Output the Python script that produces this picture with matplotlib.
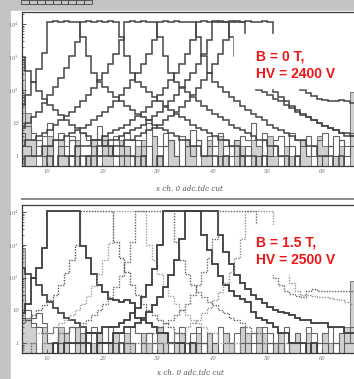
import numpy as np
import matplotlib
matplotlib.use('Agg')
import matplotlib.pyplot as plt
from matplotlib.patches import Rectangle

plt.rcParams['mathtext.fontset'] = 'dejavuserif'

# channels 5..65, one bin per channel
channels = np.arange(5, 66)
edges = np.arange(5, 67)
x_ticks = [10, 20, 30, 40, 50, 60]
y_ticks = [1, 10, 100, 1000, 10000]
y_tick_labels = ['1', '10', '$10^2$', '$10^3$', '$10^4$']
x_label = 'x ch. 0 adc.tdc cut'
label_top = ['B = 0 T,', 'HV = 2400 V']
label_bot = ['B = 1.5 T,', 'HV = 2500 V']

# ---- upper plot: B = 0 T ----
top_c0 = [1000, 380, 180, 95, 55, 35, 24, 17, 12, 9,
          7, 5, 4, 3, 3, 2, 2, 1, 1, 1,
          1, 0, 1, 0, 0, 1, 0, 0, 0, 0,
          0, 0, 0, 0, 0, 0, 0, 0, 0, 0,
          0, 0, 0, 0, 0, 0, 0, 0, 0, 0,
          0, 0, 0, 0, 0, 0, 0, 0, 0, 0, 0]
top_c1 = [35, 70, 170, 420, 1300, 11500, 12000, 11800, 12100, 11900,
          11600, 4000, 1100, 320, 180, 125, 90, 63, 45, 32,
          24, 19, 15, 12, 9, 7, 6, 5, 4, 3,
          3, 2, 2, 1, 1, 1, 0, 1, 0, 0,
          1, 0, 0, 0, 0, 0, 0, 0, 0, 0,
          0, 0, 0, 0, 0, 0, 0, 0, 0, 0, 0]
top_c2 = [7, 10, 15, 22, 40, 70, 120, 230, 480, 1100,
          2800, 11800, 12000, 11900, 12100, 11800, 12000, 11700, 4000, 1100,
          330, 180, 125, 90, 63, 45, 32, 24, 19, 15,
          12, 9, 7, 6, 5, 4, 3, 3, 2, 2,
          1, 1, 1, 0, 1, 0, 0, 0, 0, 0,
          0, 0, 0, 0, 0, 0, 0, 0, 0, 0, 0]
top_c3 = [2, 3, 3, 4, 5, 6, 9, 12, 16, 21,
          30, 45, 70, 112, 200, 320, 630, 1250, 3200, 11900,
          12100, 11800, 12000, 11900, 11700, 4000, 1100, 320, 180, 125,
          90, 63, 45, 32, 24, 19, 15, 12, 9, 7,
          6, 5, 4, 3, 3, 2, 2, 1, 1, 0,
          1, 0, 0, 0, 0, 0, 0, 0, 0, 0, 0]
top_c4 = [0, 1, 1, 1, 2, 2, 3, 3, 4, 5,
          6, 7, 9, 12, 16, 21, 30, 45, 70, 112,
          200, 320, 630, 1250, 3200, 11800, 12000, 11900, 12100, 11800,
          11900, 11700, 4000, 1100, 320, 180, 125, 90, 63, 45,
          32, 24, 19, 15, 12, 9, 7, 6, 5, 4,
          3, 3, 2, 2, 1, 1, 1, 0, 1, 0, 0]
top_c5 = [0, 0, 0, 0, 0, 1, 0, 1, 1, 1,
          2, 2, 2, 3, 3, 4, 5, 6, 7, 9,
          12, 16, 21, 30, 45, 70, 112, 200, 320, 630,
          1250, 3200, 11900, 12000, 11800, 12100, 11900, 11700, 4000, 1100,
          320, 180, 125, 100, 85, 70, 55, 45, 35, 28,
          22, 18, 15, 12, 10, 8, 7, 6, 5, 4, 4]
top_c6 = [0, 0, 0, 0, 0, 0, 0, 0, 0, 1,
          0, 1, 1, 1, 2, 2, 3, 3, 4, 5,
          6, 7, 9, 12, 16, 21, 30, 45, 70, 112,
          200, 320, 630, 1250, 3200, 11800, 12000, 11900, 12000, 11800,
          11700, 4000, 1100, 320, 180, 125, 90, 63, 45, 32,
          24, 19, 15, 12, 10, 8, 7, 6, 5, 5, 4]
top_c7 = [0, 0, 0, 0, 0, 0, 0, 0, 0, 0,
          0, 0, 1, 0, 1, 1, 1, 2, 2, 3,
          3, 4, 5, 6, 7, 9, 12, 16, 21, 30,
          45, 70, 112, 200, 320, 630, 1250, 3200, 11900, 12000,
          11800, 12100, 11900, 11800, 12000, 11700, 4000, 1100, 320, 180,
          125, 100, 80, 65, 55, 50, 48, 45, 50, 45, 40]
top_fill = [900, 20, 3, 0, 2, 4, 0, 3, 1, 0,
            3, 0, 1, 3, 0, 4, 2, 0, 3, 2,
            0, 2, 3, 0, 4, 1, 0, 3, 1, 0,
            3, 2, 0, 1, 3, 0, 4, 1, 0, 3,
            2, 0, 3, 2, 0, 4, 1, 0, 2, 1,
            0, 3, 1, 0, 4, 2, 0, 1, 2, 0, 90]
top_n1 = [60, 8, 5, 2, 4, 10, 3, 5, 2, 4,
          1, 5, 3, 2, 8, 3, 1, 4, 2, 5,
          3, 1, 2, 10, 4, 2, 5, 3, 1, 4,
          2, 6, 3, 1, 4, 2, 5, 3, 2, 1,
          4, 3, 10, 2, 5, 1, 3, 4, 2, 5,
          3, 2, 4, 1, 3, 5, 2, 4, 3, 2, 5]
top_n2 = [5, 2, 1, 3, 1, 2, 0, 2, 1, 3,
          2, 0, 1, 2, 1, 3, 2, 1, 0, 2,
          1, 3, 1, 2, 0, 1, 2, 3, 1, 0,
          2, 1, 3, 1, 2, 0, 1, 2, 1, 3,
          1, 2, 0, 1, 3, 1, 2, 1, 0, 2,
          1, 3, 1, 2, 0, 1, 2, 1, 3, 1, 2]

# ---- lower plot: B = 1.5 T ----
bot_c0 = [200, 130, 100, 60, 30, 18, 12, 8, 6, 5,
          4, 3, 2, 2, 1, 1, 1, 0, 1, 0,
          0, 0, 0, 0, 0, 0, 0, 0, 0, 0,
          0, 0, 0, 0, 0, 0, 0, 0, 0, 0,
          0, 0, 0, 0, 0, 0, 0, 0, 0, 0,
          0, 0, 0, 0, 0, 0, 0, 0, 0, 0, 0]
bot_c1 = [8, 15, 100, 200, 800, 10500, 10800, 10900, 10700, 10800,
          10600, 900, 400, 130, 60, 35, 22, 20, 18, 20,
          17, 6, 5, 4, 3, 2, 2, 1, 1, 1,
          0, 1, 0, 0, 0, 0, 0, 0, 0, 0,
          0, 0, 0, 0, 0, 0, 0, 0, 0, 0,
          0, 0, 0, 0, 0, 0, 0, 0, 0, 0, 0]
bot_c2 = [4, 5, 7, 10, 14, 20, 30, 60, 140, 350,
          1000, 10600, 10900, 10800, 10700, 10900, 10800, 1200, 400, 150,
          60, 30, 16, 10, 7, 5, 4, 3, 2, 2,
          1, 1, 0, 1, 0, 0, 0, 0, 0, 0,
          0, 0, 0, 0, 0, 0, 0, 0, 0, 0,
          0, 0, 0, 0, 0, 0, 0, 0, 0, 0, 0]
bot_c3 = [1, 1, 1, 2, 2, 2, 3, 4, 5, 7,
          10, 16, 28, 55, 130, 350, 1100, 10800, 10900, 10700,
          10800, 10900, 10600, 1000, 350, 130, 55, 28, 16, 10,
          7, 5, 4, 3, 2, 2, 1, 1, 0, 1,
          0, 0, 0, 0, 0, 0, 0, 0, 0, 0,
          0, 0, 0, 0, 0, 0, 0, 0, 0, 0, 0]
bot_c4 = [0, 0, 1, 0, 1, 1, 1, 2, 2, 3,
          3, 4, 5, 7, 10, 15, 25, 50, 110, 300,
          1200, 10700, 10900, 10800, 10800, 10900, 10700, 10600, 1200, 350,
          130, 60, 35, 25, 18, 14, 10, 8, 6, 5,
          4, 3, 2, 2, 1, 1, 1, 0, 1, 0,
          0, 0, 0, 0, 0, 0, 0, 0, 0, 0, 0]
bot_c5 = [0, 0, 0, 0, 0, 0, 1, 0, 1, 1,
          1, 1, 2, 2, 2, 3, 3, 3, 4, 5,
          8, 12, 25, 60, 180, 1000, 10800, 10900, 10700, 10800,
          10900, 10800, 10600, 2000, 700, 250, 110, 60, 40, 28,
          22, 18, 9, 6, 5, 4, 3, 2, 2, 1,
          1, 1, 0, 1, 0, 0, 0, 0, 0, 0, 0]
bot_c6 = [0, 0, 0, 0, 0, 0, 0, 0, 0, 0,
          0, 0, 1, 0, 1, 1, 1, 2, 2, 3,
          3, 4, 6, 9, 14, 25, 50, 120, 350, 1500,
          10700, 10900, 10800, 10800, 10900, 10700, 2000, 600, 250, 120,
          70, 45, 30, 22, 17, 13, 10, 9, 8, 7,
          6, 5, 5, 4, 4, 4, 3, 3, 3, 2, 2]
bot_c7 = [0, 0, 0, 0, 0, 0, 0, 0, 0, 0,
          0, 0, 0, 0, 0, 0, 0, 0, 1, 0,
          1, 1, 1, 2, 2, 3, 4, 5, 7, 10,
          16, 30, 60, 150, 400, 1500, 10800, 10900, 10700, 10800,
          10900, 10800, 10600, 1500, 450, 180, 100, 60, 40, 32,
          28, 25, 40, 45, 40, 38, 38, 38, 38, 38, 38]
bot_c8 = [0, 0, 0, 0, 0, 0, 0, 0, 0, 0,
          0, 0, 0, 0, 0, 0, 0, 0, 0, 0,
          0, 0, 0, 1, 0, 1, 1, 1, 2, 2,
          3, 4, 5, 8, 12, 20, 35, 70, 150, 400,
          1500, 10700, 10800, 10900, 10800, 10600, 1500, 400, 150, 70,
          40, 30, 30, 28, 26, 25, 24, 22, 20, 18, 16]
bot_fill = [800, 6, 3, 0, 3, 1, 0, 3, 2, 0,
            3, 2, 0, 1, 2, 0, 1, 2, 0, 2,
            1, 0, 2, 1, 0, 3, 2, 0, 1, 2,
            0, 1, 2, 0, 2, 1, 0, 2, 1, 0,
            3, 2, 0, 3, 2, 0, 1, 2, 0, 1,
            2, 0, 2, 1, 0, 2, 1, 0, 2, 3, 80]
bot_n1 = [30, 10, 6, 8, 4, 2, 3, 1, 2, 3,
          1, 2, 1, 3, 2, 1, 3, 2, 2, 1,
          3, 2, 1, 2, 1, 3, 2, 1, 2, 3,
          1, 2, 3, 1, 2, 1, 3, 2, 1, 2,
          3, 1, 2, 1, 3, 2, 1, 2, 3, 1,
          2, 1, 3, 2, 1, 2, 3, 1, 2, 1, 3]
bot_n2 = [6, 5, 4, 3, 2, 1, 0, 1, 0, 1,
          0, 1, 1, 0, 1, 0, 1, 1, 0, 1,
          1, 0, 1, 0, 1, 1, 0, 1, 0, 1,
          1, 0, 1, 1, 0, 1, 0, 1, 1, 0,
          1, 0, 1, 1, 0, 1, 0, 1, 0, 1,
          1, 0, 1, 0, 1, 1, 0, 1, 0, 1, 1]

W, H = 354, 379
fig = plt.figure(figsize=(W / 100, H / 100), dpi=100)


def fx(px):
    return px / W


def fy(py):
    return 1 - py / H


def counts(v):
    a = np.array(v, dtype=float)
    a[a <= 0] = 1e-3
    return a


# scanned page background
fig.patches.append(Rectangle((0, 0), 1, 1, transform=fig.transFigure,
                             color='#c3c3c3', zorder=-20))
fig.patches.append(Rectangle((fx(11), 0), 1, fy(10.5), transform=fig.transFigure,
                             color='white', zorder=-19))
for i in range(9):
    fig.patches.append(Rectangle((fx(21 + i * 7.9), fy(4)), 7.9 / W, 4 / H,
                                 transform=fig.transFigure, fill=False,
                                 edgecolor='#444444', lw=0.6, zorder=-18))
fig.lines.append(plt.Line2D([fx(22), 1], [fy(198.5), fy(198.5)],
                            transform=fig.transFigure, color='#8a8a8a', lw=1.4))


def setup(ax, ylo, yhi):
    ax.set_yscale('log')
    ax.set_xlim(5.4545, 66.0)
    ax.set_ylim(ylo, yhi)
    ax.patch.set_alpha(0)
    ax.spines['right'].set_visible(False)
    for s in ['top', 'left', 'bottom']:
        ax.spines[s].set_color('#3a3a3a')
        ax.spines[s].set_linewidth(0.9)
    ax.set_xticks(x_ticks)
    ax.set_xticklabels([str(t) for t in x_ticks])
    ax.set_yticks(y_ticks)
    ax.set_yticklabels(y_tick_labels)
    ax.tick_params(which='both', direction='in', colors='#444444', labelcolor='#777777',
                   labelsize=3.8, top=False, right=False)
    ax.tick_params(which='major', length=3, width=0.6, pad=2)
    ax.tick_params(which='minor', length=1.5, width=0.5)
    for lab in ax.get_xticklabels() + ax.get_yticklabels():
        lab.set_fontfamily('DejaVu Serif')
        lab.set_fontstyle('italic')


dark = '#454545'

# ---- upper axes ----
ax1 = fig.add_axes([fx(22), fy(166), 333 / W, 154 / H])
setup(ax1, 10 ** -0.303, 10 ** 4.364)
ax1.stairs(counts(top_fill), edges, fill=True, baseline=1e-3,
           facecolor='#d0d0d0', edgecolor='none')
ax1.stairs(counts(top_fill), edges, baseline=None, color='#7a7a7a', lw=0.7)
ax1.stairs(counts(top_n1), edges, baseline=None, color='#666666', lw=0.8)
ax1.stairs(counts(top_n2), edges, baseline=None, color='#5a5a5a', lw=0.8)
for c in [top_c0, top_c1, top_c2, top_c3, top_c4, top_c5, top_c6, top_c7]:
    ax1.stairs(counts(c), edges, baseline=None, color=dark, lw=1.1)
fig.text(fx(189), fy(189), x_label, ha='center', va='center', fontsize=5.2,
         family='DejaVu Serif', style='italic', color='#555555')

# ---- lower axes ----
ax2 = fig.add_axes([fx(22), fy(353), 333 / W, 148 / H])
setup(ax2, 10 ** -0.305, 10 ** 4.214)
ax2.stairs(counts(bot_fill), edges, fill=True, baseline=1e-3,
           facecolor='#d0d0d0', edgecolor='none')
ax2.stairs(counts(bot_fill), edges, baseline=None, color='#7a7a7a', lw=0.7)
ax2.stairs(counts(bot_n1), edges, baseline=None, color='#666666', lw=0.8)
ax2.stairs(counts(bot_n2), edges, baseline=None, color='#5a5a5a', lw=0.8)
dots = (0, (1, 1))
bot_styles = [('-', '#3c3c3c', 1.2), ('-', '#3c3c3c', 1.3), (dots, '#555555', 1.0),
              (dots, '#a0a0a0', 1.0), (dots, '#666666', 1.0), ('-', '#3c3c3c', 1.3),
              ('-', '#3c3c3c', 1.3), (dots, '#666666', 1.0), (dots, '#909090', 1.0)]
bot_curves = [bot_c0, bot_c1, bot_c2, bot_c3, bot_c4, bot_c5, bot_c6, bot_c7, bot_c8]
for c, (ls, col, lw) in zip(bot_curves, bot_styles):
    ax2.stairs(counts(c), edges, baseline=None, color=col, lw=lw, linestyle=ls)
fig.text(fx(190), fy(373), x_label, ha='center', va='center', fontsize=5.2,
         family='DejaVu Serif', style='italic', color='#555555')

# ---- red annotations on white boxes ----
fig.patches.append(Rectangle((fx(234), fy(88)), (W - 234) / W, 54 / H,
                             transform=fig.transFigure, color='white', zorder=5))
fig.patches.append(Rectangle((fx(250), fy(274)), (W - 250) / W, 49 / H,
                             transform=fig.transFigure, color='white', zorder=5))
for txt, py in zip(label_top, [60.5, 78.3]):
    fig.text(fx(256), fy(py), txt, ha='left', va='baseline', fontsize=10,
             family='Liberation Sans', weight='bold', color='#f01414', zorder=6)
for txt, py in zip(label_bot, [246.5, 264.3]):
    fig.text(fx(256), fy(py), txt, ha='left', va='baseline', fontsize=10,
             family='Liberation Sans', weight='bold', color='#f01414', zorder=6)

fig.savefig('out.png', dpi=100)
